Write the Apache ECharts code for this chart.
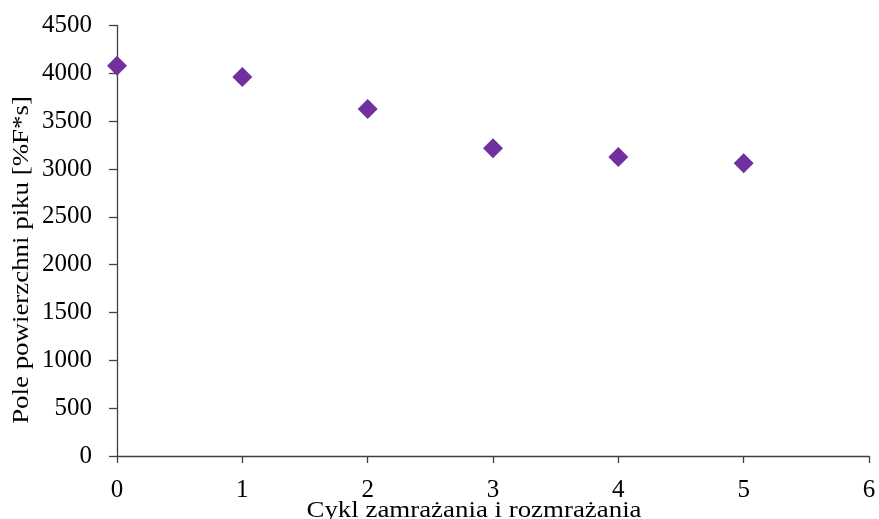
<!DOCTYPE html>
<html>
<head>
<meta charset="utf-8">
<script src="https://cdn.jsdelivr.net/npm/echarts@6/dist/echarts.min.js"></script>
<style>
  html, body { margin: 0; padding: 0; background: #fff; }
  #chart { width: 879px; height: 519px; }
</style>
</head>
<body>
<div id="chart"></div>
<script>
// Peak area after successive freeze–thaw cycles
const cycles = [0, 1, 2, 3, 4, 5];
const peakArea = [4080, 3962, 3627, 3216, 3125, 3059];
const xTitle = 'Cykl zamrażania i rozmrażania';
const yTitle = 'Pole powierzchni piku [%F*s]';

const font = '"Liberation Serif", "Times New Roman", serif';
const axisColor = '#404040';

const chart = echarts.init(document.getElementById('chart'), null, { renderer: 'canvas' });
chart.setOption({
  animation: false,
  backgroundColor: '#fff',
  grid: { left: 117, right: 10, top: 25.5, bottom: 63, containLabel: false },
  xAxis: {
    type: 'value', min: 0, max: 6, interval: 1,
    splitLine: { show: false },
    axisLine: { onZero: false, lineStyle: { color: axisColor, width: 1.3 } },
    axisTick: { show: true, length: 7, inside: false, lineStyle: { color: axisColor, width: 1.3 } },
    axisLabel: { color: '#000', fontFamily: font, fontSize: 25, margin: 22 }
  },
  yAxis: {
    type: 'value', min: 0, max: 4500, interval: 500,
    splitLine: { show: false },
    axisLine: { show: true, lineStyle: { color: axisColor, width: 1.3 } },
    axisTick: { show: true, length: 8, inside: false, lineStyle: { color: axisColor, width: 1.3 } },
    axisLabel: { color: '#000', fontFamily: font, fontSize: 25, margin: 25, formatter: v => String(v) }
  },
  graphic: [
    {
      type: 'text', x: 474, y: 511, scaleX: 1.12,
      style: { text: xTitle, fill: '#000', font: '24px ' + font, align: 'center', verticalAlign: 'middle' }
    },
    {
      type: 'text', x: 22, y: 260, rotation: Math.PI / 2, scaleX: 1.12,
      style: { text: yTitle, fill: '#000', font: '24px ' + font, align: 'center', verticalAlign: 'middle' }
    }
  ],
  series: [{
    type: 'scatter',
    data: cycles.map((c, i) => [c, peakArea[i]]),
    symbol: 'diamond',
    symbolSize: 20,
    itemStyle: { color: '#7030A0', opacity: 1 }
  }]
});
</script>
</body>
</html>
